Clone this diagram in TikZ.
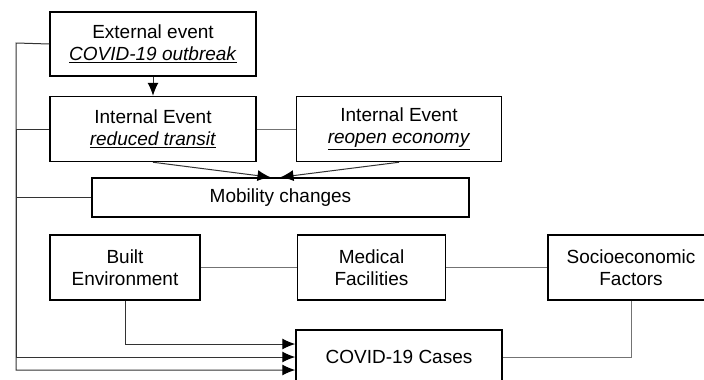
\documentclass[tikz,border=0pt]{standalone}
\usepackage{fontspec}
\setmainfont{Liberation Sans}
\usepackage{tikz}
\usetikzlibrary{positioning,arrows.meta}
\tikzset{
  >={Latex[length=13pt,width=11pt,black]},
  evbox/.style={
    rectangle,
    draw=black, line width=1.5pt,
    inner sep=0pt,
    align=center,
    font=\fontsize{19}{22}\selectfont},
  line/.style={draw=black!80, line width=1pt},
  link/.style={draw=black!55, line width=1pt},
}
\newcommand{\evname}[1]{\underline{\textit{#1}}}

\begin{document}
\begin{tikzpicture}[x=1pt,y=-1pt,node distance=19pt]
    \clip (0,0) rectangle (704,380);
    \fill[white] (0,0) rectangle (704,380);

    % events
    \node[evbox, minimum width=206pt, minimum height=64pt] (extEvent) at (153,44) {External event\\\evname{COVID-19 outbreak}};
    \node[evbox, minimum width=206pt, minimum height=65pt, below=19pt of extEvent] (transit) {Internal Event\\\evname{reduced transit}};
    \node[evbox, minimum width=205pt, minimum height=65pt, right=39pt of transit] (economy) {Internal Event\\\evname{reopen economy}};
    \node[evbox, minimum width=377pt, minimum height=39pt] (mobility) at (280.5,197.5) {Mobility changes};

    % factors
    \node[evbox, minimum width=150pt, minimum height=65pt] (builtEnv) at (125,267.5) {Built\\Environment};
    \node[evbox, minimum width=148pt, minimum height=65pt, right=96pt of builtEnv] (medical) {Medical\\Facilities};
    \node[evbox, minimum width=166pt, minimum height=65pt, right=101pt of medical] (socio) {Socioeconomic\\Factors};
    \node[evbox, minimum width=206pt, minimum height=54pt] (cases) at (399,357) {COVID-19 Cases};

    \coordinate (trunk) at (16,43);

    \path[line,->] (extEvent.south) -- (transit.north);
    \path[line,->] (transit.south) -- ([xshift=-10pt]mobility.north);
    \path[line,->] (economy.south) -- (mobility.north);
    \path[link] (transit.east) -- (economy.west);
    \path[link] (builtEnv.east) -- (medical.west);
    \path[link] (medical.east) -- (socio.west);
    \path[link] (socio.south) |- (cases.east);

    % left trunk
    \path[line,->] (extEvent.west) -- (trunk) |- ([yshift=-13pt]cases.west);
    \path[line,->] (transit.west) -| (trunk |- cases.west) -- (cases.west);
    \path[line] (mobility.west) -- (mobility.west -| trunk);
    \path[line,->] (builtEnv.south) |- ([yshift=13pt]cases.west);
\end{tikzpicture}
\end{document}
